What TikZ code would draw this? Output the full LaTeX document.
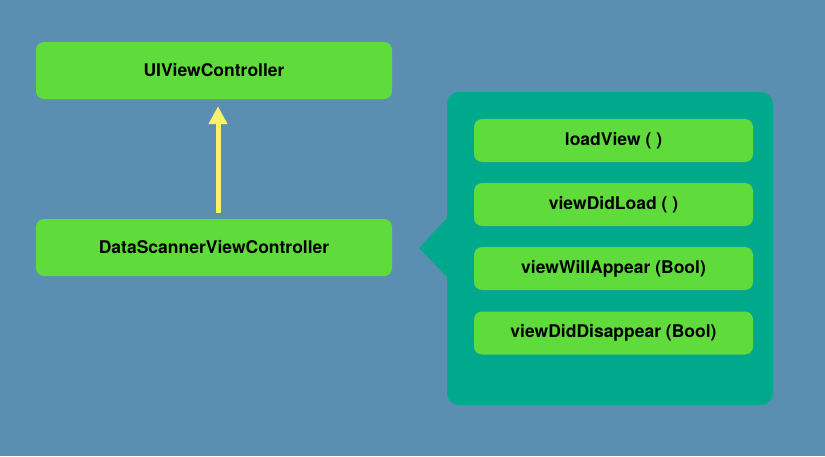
\documentclass[tikz,border=0pt]{standalone}
\usepackage{fontspec}
\setmainfont{TeX Gyre Heros}
\usetikzlibrary{arrows.meta}
\definecolor{bgblue}{HTML}{5B8FB1}
\definecolor{boxgreen}{HTML}{5FDB3B}
\definecolor{panelteal}{HTML}{00A98B}
\definecolor{arrowyellow}{HTML}{F6F26C}
\tikzset{
    classbox/.style = {
        fill = boxgreen,
        rounded corners = 8pt,
        minimum width = 356pt,
        minimum height = 57pt,
        font = \fontsize{17.5}{20}\selectfont\bfseries
    },
    methodbox/.style = {
        fill = boxgreen,
        rounded corners = 8pt,
        minimum width = 279pt,
        minimum height = 43pt,
        font = \fontsize{17.5}{20}\selectfont\bfseries
    }
}
\begin{document}
\begin{tikzpicture}[x=1pt,y=-1pt]
            \fill[bgblue] (0,0) rectangle (825,456);
            \useasboundingbox (0,0) rectangle (825,456);
            % classes
            \node[classbox] (uivc) at (214,70.5) {UIViewController};
            \node[classbox] (dsvc) at (214,247.5) {DataScannerViewController};
            \draw[
                arrowyellow,
                line width = 5pt,
                shorten < = 6pt,
                shorten > = 7pt,
                -{Triangle[width=18pt,length=18pt]}
            ]
            ([xshift=4pt]dsvc.north) -- ([xshift=4pt]uivc.south);
            % callout panel
            \node[
                fill = panelteal,
                rounded corners = 12pt,
                minimum width = 326pt,
                minimum height = 313pt
            ] (panel) at (610,248.5) {};
            \coordinate (tip) at (419,248);
            \fill[panelteal] (448,217) -- (tip) -- (448,278) -- cycle;
            % methods
            \node[methodbox] (load) at (613.5,140.5) {loadView ( )};
            \node[methodbox] (didload) at (613.5,204.5) {viewDidLoad ( )};
            \node[methodbox] (willappear) at (613.5,268.5) {viewWillAppear (Bool)};
            \node[methodbox] (diddisappear) at (613.5,333) {viewDidDisappear (Bool)};
        \end{tikzpicture}
\end{document}
